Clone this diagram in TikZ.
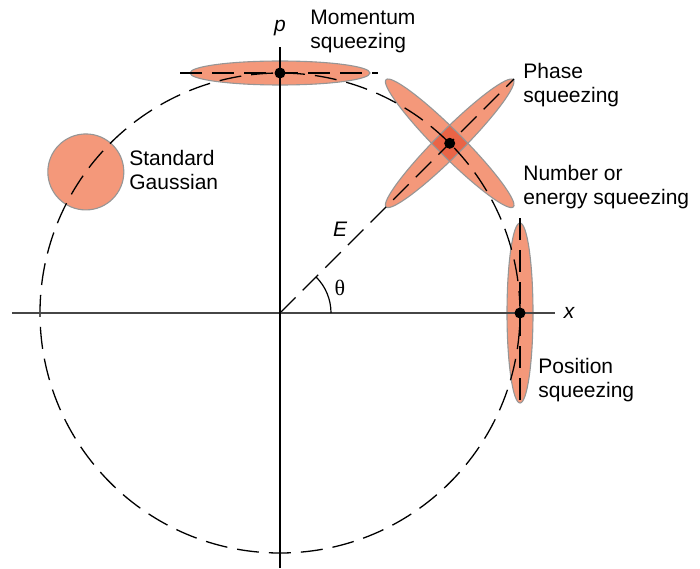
\documentclass[tikz,border=0pt]{standalone}
\usepackage{fontspec}
\setsansfont{Liberation Sans}
\newfontfamily\greekserif{Liberation Serif}
\usepackage{tikz}
\usetikzlibrary{positioning}
\definecolor{sqfill}{RGB}{244,152,122}
\definecolor{sqdark}{RGB}{234,100,70}
\definecolor{sqedge}{RGB}{150,150,150}
\definecolor{axgray}{RGB}{70,70,70}
\tikzset{
  blob/.style={fill=sqfill},
  blobedge/.style={draw=sqedge, line width=0.55pt},
  dashline/.style={dash pattern=on 11pt off 5pt, line width=0.65pt},
  paxis/.style={line width=1pt, color=black},
  xaxis/.style={line width=0.7pt, color=axgray},
  lbl/.style={font=\sffamily\fontsize{10.5}{12}\selectfont, align=left,
    anchor=north west, inner sep=0pt},
  var/.style={font=\sffamily\itshape\fontsize{10.5}{12}\selectfont, inner sep=0pt},
  dot/.style={circle, fill=black, inner sep=0pt, minimum size=5.5pt}
}

\begin{document}
\begin{tikzpicture}[x=0.5pt, y=0.5pt]
  \useasboundingbox (-280,-255) rectangle (420,313);

  \coordinate (org) at (0,0);
  \coordinate (pmom) at (0,240);
  \coordinate (ppos) at (240,0);
  \coordinate (pph) at (45:240);
  \coordinate (pgs) at (144:240);
  \coordinate (etip) at (45:331);

  % squeezed states
  \fill[sqfill] (pgs) circle (38);
  \fill[sqfill] (pmom) ellipse [x radius=90, y radius=12];
  \fill[sqfill] (ppos) ellipse [x radius=13, y radius=90];
  \fill[sqfill, rotate around={45:(pph)}] (pph) ellipse [x radius=90, y radius=13];
  \fill[sqfill, rotate around={-45:(pph)}] (pph) ellipse [x radius=90, y radius=13];
  \begin{scope}
    \clip[rotate around={45:(pph)}] (pph) ellipse [x radius=90, y radius=13];
    \fill[sqdark, rotate around={-45:(pph)}] (pph) ellipse [x radius=90, y radius=13];
  \end{scope}
  \draw[blobedge] (pgs) circle (38);
  \draw[blobedge] (pmom) ellipse [x radius=90, y radius=12];
  \draw[blobedge] (ppos) ellipse [x radius=13, y radius=90];
  \draw[blobedge, rotate around={45:(pph)}] (pph) ellipse [x radius=90, y radius=13];
  \draw[blobedge, rotate around={-45:(pph)}] (pph) ellipse [x radius=90, y radius=13];

  % circle of constant energy
  \draw[dashline] (org) circle (240);
  \draw[dashline] (org) -- (etip);
  \draw[dashline] (pmom) ++(-100,0) -- ++(198,0);
  \draw[dashline] (ppos) ++(0,95) -- ++(0,-190);

  % axes
  \draw[xaxis] (-268,0) -- (275,0);
  \draw[paxis] (0,-255) -- (0,266);
  \draw[line width=0.6pt] (51,0) arc (0:45:51);

  \node[dot] (dmom) at (pmom) {};
  \node[dot] (dph) at (pph) {};
  \node[dot] (dpos) at (ppos) {};

  % labels
  \node[var] (lp) at (0,285) {p};
  \node[var] (lx) at (289,0) {x};
  \node[var] (lE) at (60,84) {E};
  \node[inner sep=0pt, font=\greekserif\fontsize{11}{12}\selectfont] (lth) at (60,25) {θ};
  \node[lbl] (lmom) at (30,303) {Momentum\\squeezing};
  \node[lbl] (lph) at (243,250) {Phase\\squeezing};
  \node[lbl] (lnum) at (243,148) {Number or\\energy squeezing};
  \node[lbl] (lgs) at (-151,163) {Standard\\Gaussian};
  \node[lbl] (lpos) at (258,-45) {Position\\squeezing};
\end{tikzpicture}
\end{document}
